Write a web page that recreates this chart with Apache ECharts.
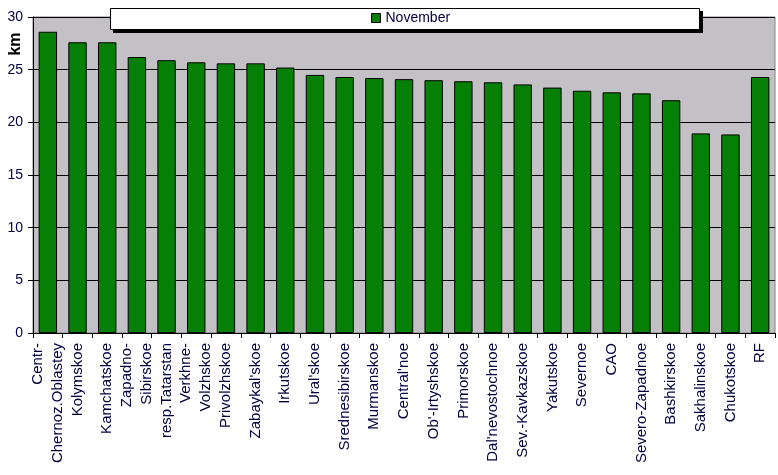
<!DOCTYPE html>
<html>
<head>
<meta charset="utf-8">
<script src="https://cdn.jsdelivr.net/npm/echarts@6/dist/echarts.min.js"></script>
<style>html,body{margin:0;padding:0;background:#fff}#c{width:778px;height:475px}</style>
</head>
<body>
<div id="c"></div>
<script>
var categories = ["Centr-\nChernoz.Oblastey","Kolymskoe","Kamchatskoe","Zapadno-\nSibirskoe","resp.Tatarstan","Verkhne-\nVolzhskoe","Privolzhskoe","Zabaykal'skoe","Irkutskoe","Ural'skoe","Srednesibirskoe","Murmanskoe","Central'noe","Ob'-Irtyshskoe","Primorskoe","Dal'nevostochnoe","Sev.-Kavkazskoe","Yakutskoe","Severnoe","CAO","Severo-Zapadnoe","Bashkirskoe","Sakhalinskoe","Chukotskoe","RF"];
var november = [28.6,27.6,27.6,26.2,25.9,25.7,25.6,25.6,25.2,24.5,24.3,24.2,24.1,24.0,23.9,23.8,23.6,23.3,23.0,22.85,22.75,22.1,18.95,18.85,24.3];
var yTicks = {min:0, max:30, interval:5};
var seriesName = "November";
var axisName = "km";

var txt = '#000040';
var font = '"Liberation Sans", Arial, sans-serif';
var chart = echarts.init(document.getElementById('c'), null, {renderer:'canvas'});
chart.setOption({
  animation:false,
  backgroundColor:'#ffffff',
  textStyle:{fontFamily:font},
  grid:{left:33,right:3,top:17,bottom:142,show:true,backgroundColor:'#c3c1c5',borderColor:'#808080',borderWidth:1},
  graphic:[
    {type:'rect',shape:{x:113,y:11,width:590,height:22},style:{fill:'#000'},z:50},
    {type:'rect',shape:{x:110.5,y:8.5,width:589,height:21},style:{fill:'#fff',stroke:'#000',lineWidth:1},z:51},
    {type:'text',x:16,y:44,rotation:Math.PI/2,style:{text:axisName,font:'bold 16px '+font,fill:'#000',align:'center',verticalAlign:'middle'},z:60}
  ],
  legend:{show:true,top:11,left:371,itemWidth:9,itemHeight:9,itemGap:5,padding:[0,0,0,0],z:60,
    textStyle:{color:txt,fontSize:14,fontFamily:font},
    data:[{name:seriesName,icon:'rect',itemStyle:{color:'#057f05',borderColor:'#000',borderWidth:1}}]},
  xAxis:{type:'category',data:categories,
    axisLine:{show:true,lineStyle:{color:'#000',width:1}},
    axisTick:{show:true,length:5,lineStyle:{color:'#000'}},
    axisLabel:{rotate:90,interval:0,margin:10,color:txt,fontSize:15,fontFamily:font,lineHeight:20}},
  yAxis:{type:'value',min:yTicks.min,max:yTicks.max,interval:yTicks.interval,
    axisLine:{show:true,lineStyle:{color:'#000',width:1}},
    axisTick:{show:true,length:5,lineStyle:{color:'#000'}},
    axisLabel:{color:txt,fontSize:14,fontFamily:font,margin:10},
    splitLine:{show:true,lineStyle:{color:'#000',width:1}}},
  series:[{name:seriesName,type:'bar',data:november,barCategoryGap:'38%',
    itemStyle:{color:'#057f05',borderColor:'#000',borderWidth:1}}]
});
</script>
</body>
</html>
